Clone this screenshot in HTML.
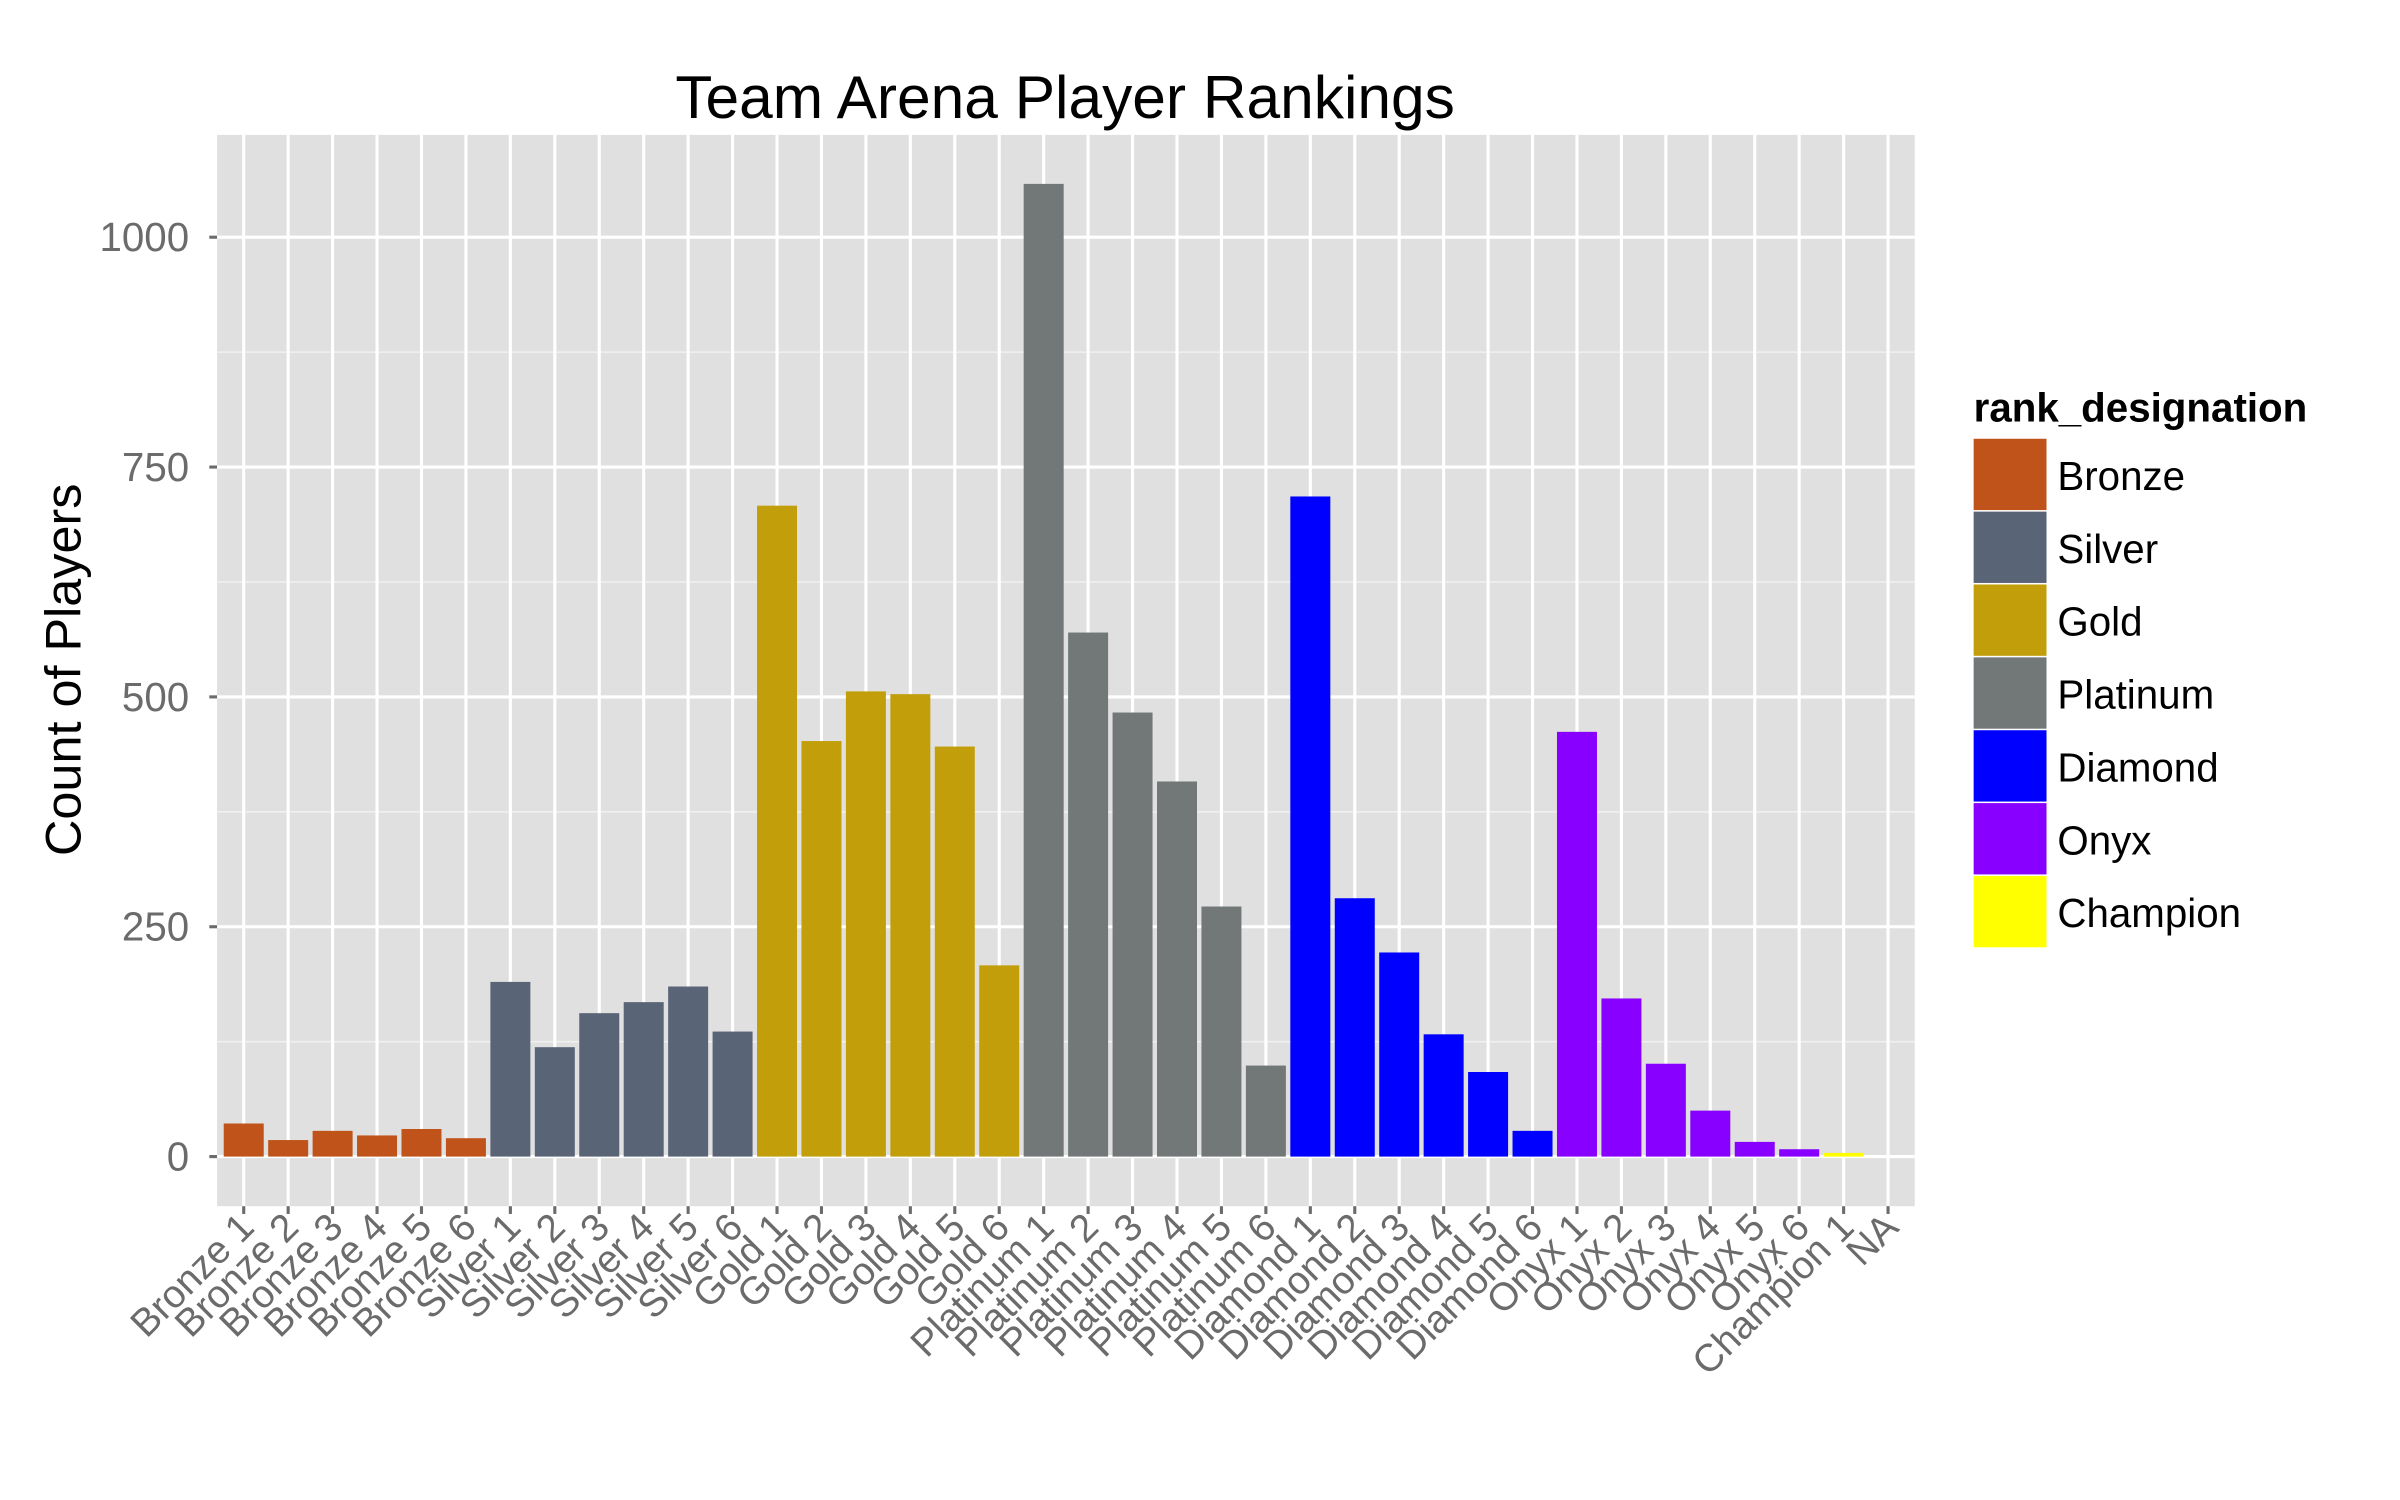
<!DOCTYPE html>
<html><head><meta charset="utf-8"><style>
html,body{margin:0;padding:0;background:#fff;}
svg{display:block;font-family:"Liberation Sans",Arial,sans-serif;}
</style></head><body>
<svg id="chart" width="2400" height="1500" viewBox="0 0 1548 967.5" xmlns="http://www.w3.org/2000/svg">
<rect x="0" y="0" width="1548" height="967.5" fill="#fff"/>
<rect x="140" y="87" width="1095" height="691" fill="#E0E0E0"/>
<g id="grid"></g>
<g id="bars"></g>
<g id="axes"></g>
<text x="687" y="76" font-size="39" text-anchor="middle" fill="#000">Team Arena Player Rankings</text>
<text transform="translate(52,432) rotate(-90)" font-size="32.5" text-anchor="middle" fill="#000">Count of Players</text>
<g id="legend"></g>
</svg>
<script>
const categories = ["Bronze 1","Bronze 2","Bronze 3","Bronze 4","Bronze 5","Bronze 6","Silver 1","Silver 2","Silver 3","Silver 4","Silver 5","Silver 6","Gold 1","Gold 2","Gold 3","Gold 4","Gold 5","Gold 6","Platinum 1","Platinum 2","Platinum 3","Platinum 4","Platinum 5","Platinum 6","Diamond 1","Diamond 2","Diamond 3","Diamond 4","Diamond 5","Diamond 6","Onyx 1","Onyx 2","Onyx 3","Onyx 4","Onyx 5","Onyx 6","Champion 1","NA"];
const counts = [36,18,28,23,30,20,190,119,156,168,185,136,708,452,506,503,446,208,1058,570,483,408,272,99,718,281,222,133,92,28,462,172,101,50,16,8,4,0];
const groups = ["Bronze","Silver","Gold","Platinum","Diamond","Onyx","Champion"];
const groupColors = ["#C0531A","#5A6477","#C29F0A","#717877","#0000FF","#8800FF","#FFFF00"];
const yTicks = [0,250,500,750,1000];
const yMinor = [125,375,625,875];

const NS="http://www.w3.org/2000/svg";
const panelL=140, panelR=1235, panelT=87, panelB=778;
const step=(panelR-panelL)/(categories.length-1+1.2);
function xScale(i){return panelL+0.6*step+i*step;}
function yScale(v){return 746-v*0.593;}
function mk(tag,attrs,parent){const e=document.createElementNS(NS,tag);for(const k in attrs)e.setAttribute(k,attrs[k]);parent.appendChild(e);return e;}
const grid=document.getElementById('grid'), bars=document.getElementById('bars'), axes=document.getElementById('axes'), legend=document.getElementById('legend');

yMinor.forEach(v=>{const l=mk('line',{x1:panelL,x2:panelR,y1:yScale(v),y2:yScale(v),stroke:'#F0F0F0','stroke-width':1},grid);

});
yTicks.forEach(v=>{const l=mk('line',{x1:panelL,x2:panelR,y1:yScale(v),y2:yScale(v),stroke:'#fff','stroke-width':2},grid);


const t=mk('line',{x1:panelL-5,x2:panelL,y1:yScale(v),y2:yScale(v),stroke:'#6b6b6b','stroke-width':2},axes);


const tx=mk('text',{x:panelL-18,y:yScale(v)+9,'font-size':26,'text-anchor':'end',fill:'#6b6b6b'},axes);
tx.textContent=v;

});
categories.forEach((c,i)=>{const x=xScale(i);
const l=mk('line',{x1:x,x2:x,y1:panelT,y2:panelB,stroke:'#fff','stroke-width':2},grid);


const t=mk('line',{x1:x,x2:x,y1:panelB,y2:panelB+5,stroke:'#6b6b6b','stroke-width':2},axes);


const tx=mk('text',{transform:`translate(${x+8},${panelB+15}) rotate(-45)`,'font-size':25,'text-anchor':'end',fill:'#6b6b6b'},axes);
tx.textContent=c;


const v=counts[i];
if(v>0){const g=groups.indexOf(c.split(' ')[0]);const w=step*0.9;
const r=mk('rect',{x:x-w/2,y:yScale(v),width:w,height:yScale(0)-yScale(v),fill:groupColors[g]},bars);

}});
const lt=mk('text',{x:1273,y:272,'font-size':26,'font-weight':'bold',fill:'#000'},legend);
lt.textContent='rank_designation';


groups.forEach((g,i)=>{const y=283+i*47;
const r=mk('rect',{x:1273,y:y,width:47,height:46,fill:groupColors[i]},legend);


const t=mk('text',{x:1327,y:y+33,'font-size':26,fill:'#000'},legend);
t.textContent=g;

});
</script>
</body></html>
